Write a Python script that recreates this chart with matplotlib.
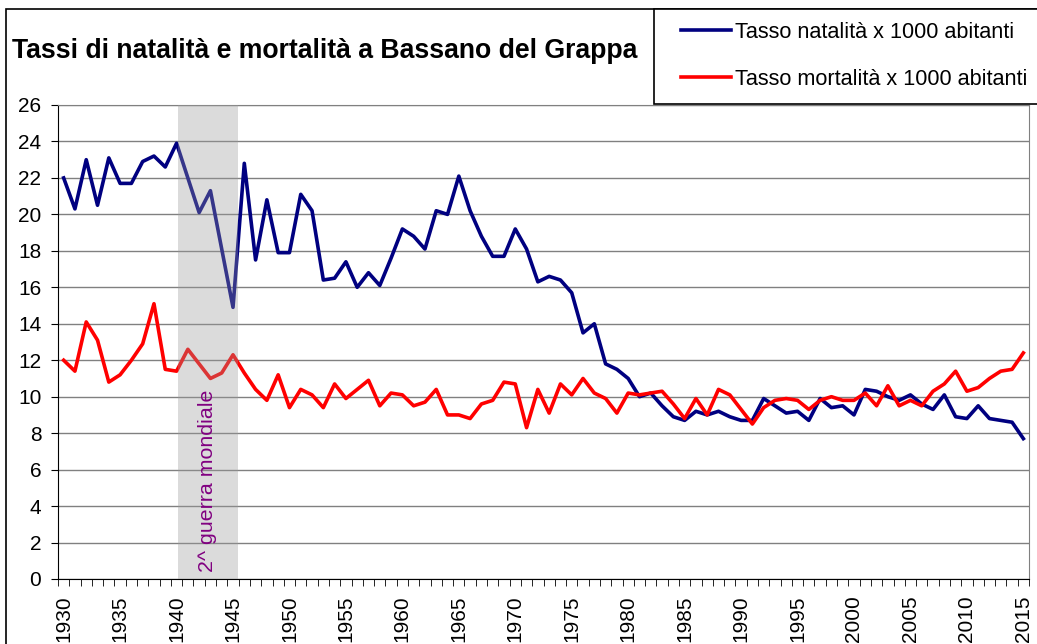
import matplotlib
matplotlib.use("Agg")
import matplotlib.pyplot as plt
from matplotlib.patches import Rectangle
import numpy as np

plt.rcParams["font.family"] = ["Liberation Sans", "DejaVu Sans"]

years = np.arange(1930, 2016)
natalita = [
    22.0, 20.3, 23.0, 20.5, 23.1, 21.7, 21.7, 22.9, 23.2, 22.6,
    23.9, 22.0, 20.1, 21.3, 18.1, 14.9, 22.8, 17.5, 20.8, 17.9,
    17.9, 21.1, 20.2, 16.4, 16.5, 17.4, 16.0, 16.8, 16.1, 17.6,
    19.2, 18.8, 18.1, 20.2, 20.0, 22.1, 20.2, 18.8, 17.7, 17.7,
    19.2, 18.1, 16.3, 16.6, 16.4, 15.7, 13.5, 14.0, 11.8, 11.5,
    11.0, 10.0, 10.2, 9.5, 8.9, 8.7, 9.2, 9.0, 9.2, 8.9,
    8.7, 8.7, 9.9, 9.5, 9.1, 9.2, 8.7, 9.9, 9.4, 9.5,
    9.0, 10.4, 10.3, 10.0, 9.8, 10.1, 9.6, 9.3, 10.1, 8.9,
    8.8, 9.5, 8.8, 8.7, 8.6, 7.7,
]
mortalita = [
    12.0, 11.4, 14.1, 13.1, 10.8, 11.2, 12.0, 12.9, 15.1, 11.5,
    11.4, 12.6, 11.8, 11.0, 11.3, 12.3, 11.3, 10.4, 9.8, 11.2,
    9.4, 10.4, 10.1, 9.4, 10.7, 9.9, 10.4, 10.9, 9.5, 10.2,
    10.1, 9.5, 9.7, 10.4, 9.0, 9.0, 8.8, 9.6, 9.8, 10.8,
    10.7, 8.3, 10.4, 9.1, 10.7, 10.1, 11.0, 10.2, 9.9, 9.1,
    10.2, 10.1, 10.2, 10.3, 9.6, 8.8, 9.9, 9.0, 10.4, 10.1,
    9.3, 8.5, 9.4, 9.8, 9.9, 9.8, 9.3, 9.8, 10.0, 9.8,
    9.8, 10.2, 9.5, 10.6, 9.5, 9.8, 9.5, 10.3, 10.7, 11.4,
    10.3, 10.5, 11.0, 11.4, 11.5, 12.4,
]
war_start, war_end = 1940, 1945

W, H = 1037, 644
fig = plt.figure(figsize=(W / 100, H / 100), dpi=100)
ax = fig.add_axes([58 / W, 1 - 579 / H, 971 / W, 474 / H])

ln1, = ax.plot(years, natalita, color="#000080", lw=2.6, zorder=3,
               label="Tasso natalità x 1000 abitanti")
ln2, = ax.plot(years, mortalita, color="#ff0000", lw=2.6, zorder=3,
               label="Tasso mortalità x 1000 abitanti")

ax.axvspan(war_start + 0.1, war_end + 0.4, color="#9a9a9a", alpha=0.35,
           lw=0, zorder=4)
ax.text((war_start + war_end + 0.5) / 2, 0.4, "2^ guerra mondiale",
        rotation=90, color="#800080", fontsize=15.4, ha="center",
        va="bottom", zorder=5)

ax.set_xlim(1929.5, 2015.5)
ax.set_ylim(0, 26)
ax.set_yticks(np.arange(0, 27, 2))
ax.yaxis.grid(True, color="#808080", lw=1)
ax.set_axisbelow(True)

ax.set_xticks(np.arange(1930, 2016, 5))
ax.set_xticks(np.arange(1929.5, 2016, 1), minor=True)
ax.tick_params(axis="x", which="major", length=0, pad=12, labelsize=15,
               labelrotation=90)
ax.tick_params(axis="x", which="minor", length=5, direction="out")
ax.tick_params(axis="y", length=5, direction="out", pad=7, labelsize=15)
for lab in ax.get_xticklabels():
    lab.set_va("top")

ax.spines["top"].set_color("#808080")
ax.spines["right"].set_color("#808080")

fig.text(12 / W, 1 - 51 / H, "Tassi di natalità e mortalità a Bassano del Grappa",
         fontsize=19.2, fontweight="bold", va="center", ha="left")

fig.add_artist(Rectangle((6 / W, -0.1), 2, 1 - 9 / H + 0.1,
                         transform=fig.transFigure, fill=False,
                         edgecolor="black", lw=1.2))
fig.add_artist(Rectangle((654 / W, 1 - 104 / H), 1, 95 / H,
                         transform=fig.transFigure, fill=True,
                         facecolor="white", edgecolor="black", lw=1.2))
fig.legend(handles=[ln1, ln2], loc="center left",
           bbox_to_anchor=(681 / W, 1 - 56 / H), frameon=False,
           fontsize=15.6, handlelength=2.3, handletextpad=0.2,
           labelspacing=1.2, borderpad=0, borderaxespad=0)

fig.savefig("out.png", dpi=100)
